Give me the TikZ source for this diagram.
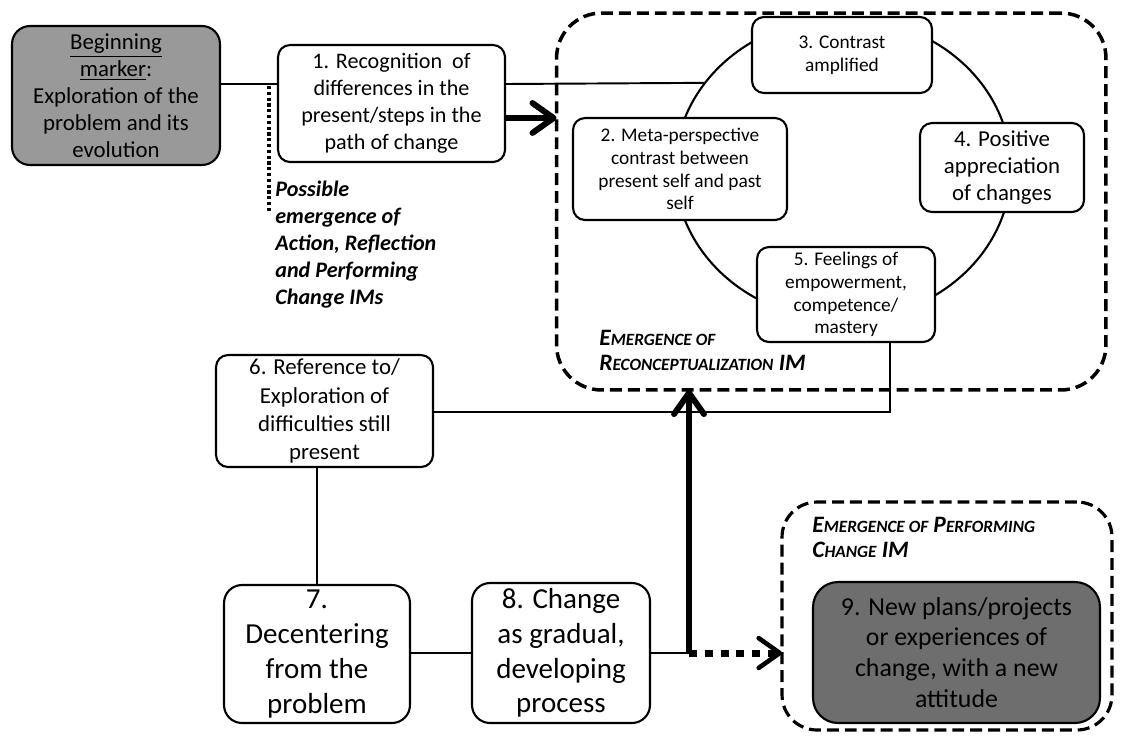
\documentclass[tikz,border=0pt]{standalone}
\usepackage{fontspec}
\setmainfont{Carlito}
\usetikzlibrary{arrows.meta,shapes.geometric}
\definecolor{markergray}{gray}{0.6}
\definecolor{plangray}{gray}{0.43}
\newcommand\fakesc[2]{#1{\fontsize{9.8}{14.2}\selectfont #2}}

\begin{document}
\begin{tikzpicture}[x=0.02cm,y=-0.02cm,
    phase/.style={draw,line width=1.2pt,rounded corners=0.24cm,align=center,inner sep=0pt,outer sep=0pt,fill=white},
    imzone/.style={draw,line width=2pt,dash pattern=on 6.8pt off 3.4pt,rounded corners=0.9cm,inner sep=0pt,outer sep=0pt},
    link/.style={line width=1.1pt},
    bigarrow/.style={line width=3.4pt,-{Straight Barb[round,length=12pt,width=17pt]}},
    dotarrow/.style={line width=4pt,dash pattern=on 4.5pt off 4.5pt,-{Straight Barb[round,length=12pt,width=17pt,line width=2.6pt]}},
    imlabel/.style={align=left,anchor=north west,inner sep=0pt,font=\fontsize{13.4}{14.2}\selectfont\bfseries\itshape}
]
\useasboundingbox (0,0) rectangle (1122,735);

% emergence zones
\node[imzone,minimum width=10.99cm,minimum height=7.54cm] (rec) at (831.25,201.5) {};
\node[imzone,line width=1.8pt,rounded corners=0.7cm,minimum width=6.6cm,minimum height=4.56cm] (perf) at (947,616) {};
\node[ellipse,draw,line width=1.2pt,minimum width=6.72cm,minimum height=6.04cm,inner sep=0pt,outer sep=0pt] (cyc) at (843,169) {};

% phases
\node[phase,fill=markergray,rounded corners=0.36cm,minimum width=4.16cm,minimum height=2.78cm,font=\fontsize{13}{15.3}\selectfont] (marker) at (116,95.5) {\underline{Beginning}\\\underline{marker}:\\Exploration of the\\problem and its\\evolution};
\node[phase,minimum width=4.54cm,minimum height=2.34cm,font=\fontsize{12.6}{15.3}\selectfont] (n1) at (391.5,103.5) {1. Recognition\ \ of\\differences in the\\present/steps in the\\path of change};
\node[phase,minimum width=4.28cm,minimum height=2.04cm,font=\fontsize{11}{13}\selectfont] (n2) at (680,169) {2. Meta-perspective\\contrast between\\present self and past\\self};
\node[phase,minimum width=3.6cm,minimum height=1.52cm,font=\fontsize{11}{13}\selectfont] (n3) at (842,55) {3. Contrast\\amplified};
\node[phase,minimum width=3.28cm,minimum height=1.78cm,font=\fontsize{13}{15.3}\selectfont] (n4) at (1002,167.5) {4. Positive\\appreciation\\of changes};
\node[phase,minimum width=3.56cm,minimum height=1.9cm,font=\fontsize{11}{13}\selectfont] (n5) at (846,294.5) {5. Feelings of\\empowerment,\\competence/\\mastery};
\node[phase,minimum width=4.34cm,minimum height=2.24cm,font=\fontsize{13}{16}\selectfont] (n6) at (324.5,411) {6. Reference to/\\Exploration of\\difficulties still\\present};
\node[phase,rounded corners=0.36cm,minimum width=3.72cm,minimum height=2.76cm,font=\fontsize{16.5}{19.8}\selectfont] (n7) at (317,654) {7.\\Decentering\\from the\\problem};
\node[phase,rounded corners=0.36cm,minimum width=3.56cm,minimum height=2.8cm,font=\fontsize{16.5}{19.8}\selectfont] (n8) at (561,653) {8. Change\\as gradual,\\developing\\process};
\node[phase,fill=plangray,rounded corners=0.5cm,minimum width=5.74cm,minimum height=2.82cm,font=\fontsize{14.7}{17.6}\selectfont] (n9) at (956.5,652.5) {9. New plans/projects\\or experiences of\\change, with a new\\attitude};

% labels
\node[anchor=north west,align=left,inner sep=0pt,font=\fontsize{12.6}{15.3}\selectfont\bfseries\itshape] (possible) at (275,181) {Possible\\emergence of\\Action, Reflection\\and Performing\\Change IMs};
\node[imlabel] (reclabel) at (599,330) {\fakesc{E}{MERGENCE OF}\\\fakesc{R}{ECONCEPTUALIZATION} IM};
\node[imlabel] (perflabel) at (812,517) {\fakesc{E}{MERGENCE OF} \fakesc{P}{ERFORMING}\\\fakesc{C}{HANGE} IM};

% connectors
\coordinate (lineA) at (240,84);
\coordinate (arrowA) at (530,118);
\coordinate (dotTop) at (269,86);
\coordinate (dotEnd) at (269,212);
\coordinate (jog) at (890,412);
\coordinate (split) at (689,653);
\draw[link] (marker.east |- lineA) -- (n1.west |- lineA);
\draw[link] (n1.east |- lineA) -- (cyc.148.5);
\draw[line width=2.4pt,dash pattern=on 1.8pt off 1.5pt] (dotTop) -- (dotEnd);
\draw[bigarrow] (n1.east |- arrowA) -- (rec.west |- arrowA);
\draw[link] (n5.south -| jog) -- (jog) -- (n6.east |- jog);
\draw[link] (n6.south -| n7.north) -- (n7.north);
\draw[link] (n7.east |- n8.west) -- (n8.west);
\draw[link] (n8.east) -- (split);
\draw[bigarrow] (split) -- (split |- rec.south);
\draw[dotarrow] (split) -- (perf.west |- split);
\end{tikzpicture}
\end{document}
